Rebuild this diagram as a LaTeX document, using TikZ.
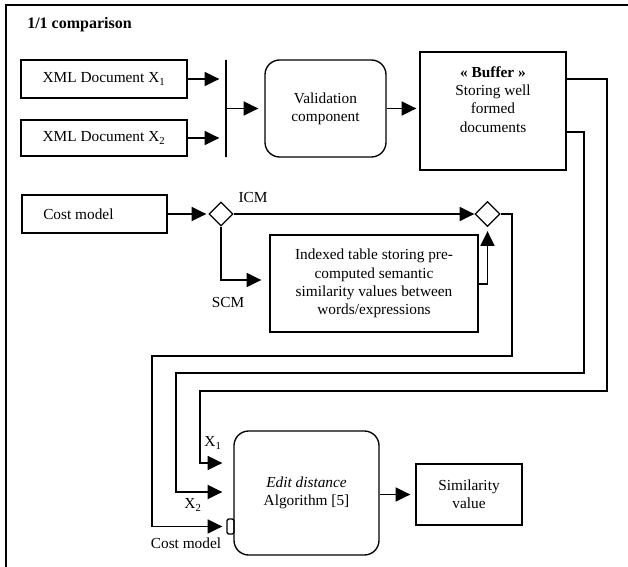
\documentclass[tikz,border=0pt]{standalone}
\usepackage{fontspec}
\setmainfont{Liberation Serif}
\usetikzlibrary{arrows.meta,shapes.geometric}
\begin{document}
\begin{tikzpicture}[x=0.75pt,y=-0.75pt,
  every node/.style={font=\fontsize{11.5}{13.6}\selectfont},
  box/.style={draw, line width=1pt, inner sep=0pt, align=center},
  rbox/.style={box, rounded corners=11pt},
  gate/.style={draw, diamond, line width=1pt, inner sep=0pt, aspect=1},
  wire/.style={line width=1pt},
  arr/.style={wire, -{Triangle[length=11pt,width=10.5pt]}},
  lbl/.style={inner sep=0pt}]
\useasboundingbox (0,0) rectangle (628,567);
% outer frame
\draw[line width=1.5pt] (6,567) -- (6,5) -- (628,5);
\node[lbl, anchor=west, font=\fontsize{12}{14}\selectfont\bfseries] (title) at (27,25) {1/1 comparison};

% inputs and validation
\node[box, minimum width=124.5pt, minimum height=28.5pt] (x1) at (104,79) {XML Document X\textsubscript{1}};
\node[box, minimum width=124.5pt, minimum height=27pt] (x2) at (104,138) {XML Document X\textsubscript{2}};
\node[box, minimum width=0pt, minimum height=72.75pt] (bar) at (226,108.5) {};
\node[rbox, minimum width=90.75pt, minimum height=72.75pt] (valid) at (325.5,108.5) {Validation\\component};
\node[box, minimum width=109.5pt, minimum height=88.5pt] (buffer) at (493,111) {};
\node[lbl, align=center] (buftext) at (493,99.5) {\textbf{« Buffer »}\\Storing well\\formed\\documents};

\draw[arr, shorten >=4.5pt] (x1.east) -- (x1.east -| bar.west);
\draw[arr, shorten >=4.5pt] (x2.east) -- (x2.east -| bar.west);
\draw[arr, shorten >=4.5pt] (bar.east) -- (valid.west);
\draw[arr, shorten >=2.25pt] (valid.east) -- (valid.east -| buffer.west);

% cost model branch
\node[box, minimum width=108.75pt, minimum height=28.5pt] (cost) at (94.5,214) {};
\node[lbl, anchor=west] (costtext) at (43,214) {Cost model};
\node[gate, minimum width=18pt, minimum height=18pt] (d1) at (221,214) {};
\node[gate, minimum width=18.75pt, minimum height=18.75pt] (d2) at (487.5,214) {};
\node[box, minimum width=156pt, minimum height=72.75pt] (table) at (374,283.5)
  {Indexed table storing pre-\\computed semantic\\similarity values between\\words/expressions};
\node[lbl] (icm) at (253,197) {ICM};
\node[lbl] (scm) at (228,302) {SCM};

\coordinate (scmbend) at (221,280);
\coordinate (tabout) at (478,284);
\coordinate (tabbend) at (487.5,284);

\draw[arr, shorten >=1.5pt] (cost.east) -- (d1.west);
\draw[arr] (d1.east) -- (d2.west);
\draw[arr, shorten >=6pt] (d1.south) -- (scmbend) -- (scmbend -| table.west);
\draw[arr, shorten >=3pt] (tabout) -- (tabbend) -- (d2.south);

% edit distance stage
\node[rbox, minimum width=108.75pt, minimum height=93pt] (edit) at (306.5,493) {\textit{Edit distance}\\Algorithm [5]};
\node[draw, line width=1pt, rounded corners=1.5pt, minimum width=5.25pt, minimum height=11.25pt, inner sep=0pt] (port) at (230.5,526.5) {};
\node[box, minimum width=79.5pt, minimum height=45.75pt] (sim) at (469,494.5) {Similarity\\value};
\node[lbl] (lx1) at (213,443) {X\textsubscript{1}};
\node[lbl] (lx2) at (193,505) {X\textsubscript{2}};
\node[lbl] (lcost) at (186,543) {Cost model};

\coordinate (a1) at (566,79);
\coordinate (a2) at (607,391);
\coordinate (a3) at (200,463);
\coordinate (b1) at (566,132);
\coordinate (b2) at (584,373);
\coordinate (b3) at (176,492);
\coordinate (c1) at (512,356);
\coordinate (c2) at (152,526.5);

\draw[arr, shorten >=8.25pt] (a1) -| (a2) -| (a3) -- (a3 -| edit.west);
\draw[arr, shorten >=8.25pt] (b1) -| (b2) -| (b3) -- (b3 -| edit.west);
\draw[arr, shorten >=3pt] (d2.east) -| (c1) -| (c2) -- (port.west);
\draw[arr, shorten >=3.75pt] (edit.east |- sim.west) -- (sim.west);
\end{tikzpicture}
\end{document}
